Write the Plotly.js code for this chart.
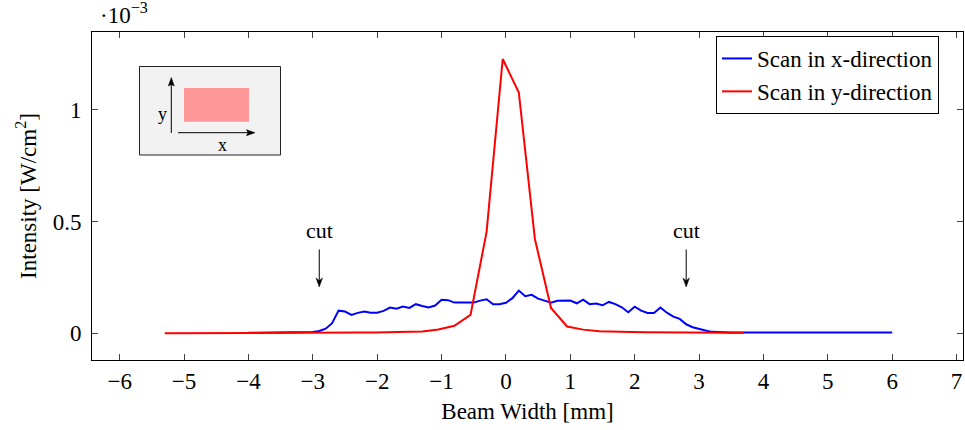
<!DOCTYPE html>
<html>
<head>
<meta charset="utf-8">
<script src="https://cdn.plot.ly/plotly-3.0.1.min.js"></script>
<style>html,body{margin:0;padding:0;background:#fff;}#chart{width:965px;height:430px;}</style>
</head>
<body>
<div id="chart"></div>
<script>
// ---- data (intensity in units of 1e-3 W/cm^2) ----
const xScanX = [-4.0,-3.9,-3.8,-3.7,-3.6,-3.5,-3.4,-3.3,-3.2,-3.1,-3.0,-2.9,-2.8,-2.7,-2.6,-2.5,-2.4,-2.3,-2.2,-2.1,-2.0,-1.9,-1.8,-1.7,-1.6,-1.5,-1.4,-1.3,-1.2,-1.1,-1.0,-0.9,-0.8,-0.7,-0.6,-0.5,-0.4,-0.3,-0.2,-0.1,0.0,0.1,0.2,0.3,0.4,0.5,0.6,0.7,0.8,0.9,1.0,1.1,1.2,1.3,1.4,1.5,1.6,1.7,1.8,1.9,2.0,2.1,2.2,2.3,2.4,2.5,2.6,2.7,2.8,2.9,3.0,3.1,3.2,3.3,3.4,3.5,3.6,3.7,3.8,3.9,4.0,4.1,4.2,4.3,4.4,4.5,4.6,4.7,4.8,4.9,5.0,5.1,5.2,5.3,5.4,5.5,5.6,5.7,5.8,5.9,6.0];
const intensityScanX = [0.002,0.002,0.002,0.002,0.002,0.002,0.003,0.003,0.003,0.004,0.005,0.010,0.020,0.045,0.101,0.097,0.082,0.091,0.097,0.092,0.092,0.100,0.115,0.110,0.119,0.113,0.130,0.122,0.115,0.124,0.150,0.148,0.137,0.137,0.136,0.137,0.146,0.152,0.130,0.130,0.136,0.157,0.191,0.166,0.172,0.155,0.146,0.137,0.145,0.146,0.146,0.134,0.150,0.130,0.133,0.125,0.140,0.130,0.116,0.094,0.119,0.101,0.091,0.090,0.115,0.092,0.074,0.064,0.040,0.027,0.018,0.012,0.006,0.004,0.003,0.003,0.003,0.003,0.003,0.003,0.003,0.003,0.003,0.003,0.003,0.003,0.004,0.005,0.005,0.005,0.005,0.004,0.004,0.004,0.004,0.003,0.003,0.003,0.003,0.003,0.003];
const xScanY = [-5.3,-5.05,-4.8,-4.55,-4.3,-4.05,-3.8,-3.55,-3.3,-3.05,-2.8,-2.55,-2.3,-2.05,-1.8,-1.55,-1.3,-1.05,-0.8,-0.55,-0.3,-0.05,0.2,0.45,0.7,0.95,1.2,1.45,1.7,1.95,2.2,2.45,2.7,2.95,3.2,3.45,3.7];
const intensityScanY = [0.0,0.0,0.0,0.0,0.0005,0.0008,0.001,0.001,0.0015,0.002,0.002,0.0025,0.003,0.0035,0.004,0.005,0.008,0.017,0.033,0.082,0.455,1.228,1.078,0.422,0.113,0.030,0.016,0.009,0.006,0.005,0.004,0.003,0.003,0.002,0.002,0.002,0.002];
const seriesNames = ["Scan in x-direction", "Scan in y-direction"];
const xTickVals = [-6,-5,-4,-3,-2,-1,0,1,2,3,4,5,6,7];
const yTickVals = [0, 0.5, 1];
const yTickText = ["0", "0.5", "1"];
const cutPositions = [-2.9, 2.8];

// ---- layout helpers (pixel -> paper) ----
const W = 965, H = 430, ML = 92, MR = 2, MT = 32, MB = 70;
const PW = W - ML - MR, PH = H - MT - MB;
const px = v => (v - ML) / PW;
const py = v => (H - MB - v) / PH;
const XR = [-6.43, 7.1], YR = [-0.12, 1.349];
const dxPerPx = (XR[1] - XR[0]) / PW, dyPerPx = (YR[1] - YR[0]) / PH;

const FONT = "Liberation Serif";
const FS = 23;

const traces = [
  {x: xScanX, y: intensityScanX, name: seriesNames[0], type: "scatter", mode: "lines",
   line: {color: "#0000ff", width: 2}},
  {x: xScanY, y: intensityScanY, name: seriesNames[1], type: "scatter", mode: "lines",
   line: {color: "#ff0000", width: 2}}
];

const annotations = [];
const shapes = [];
cutPositions.forEach(c => {
  const tipY = 0.207, tailY = 0.375;
  const hw = 3.2 * dxPerPx, hh = 9 * dyPerPx;
  shapes.push({type: "line", xref: "x", yref: "y", x0: c, x1: c, y0: tailY, y1: tipY + hh * 0.6,
    line: {color: "#000", width: 1}});
  shapes.push({type: "path", xref: "x", yref: "y",
    path: `M ${c} ${tipY} L ${c - hw} ${tipY + hh} L ${c} ${tipY + hh * 0.7} L ${c + hw} ${tipY + hh} Z`,
    fillcolor: "#000", line: {color: "#000", width: 0.5}});
  annotations.push({x: c, y: 0.458, xref: "x", yref: "y", text: "cut", showarrow: false,
    font: {family: FONT, size: 22, color: "#000"}, xanchor: "center", yanchor: "middle"});
});
// exponent label
annotations.push({x: px(98), y: py(14), xref: "paper", yref: "paper", text: "·10<sup>−3</sup>",
  showarrow: false, xanchor: "left", yanchor: "middle", font: {family: FONT, size: 23, color: "#000"}});

// inset
shapes.push({type: "rect", xref: "paper", yref: "paper", x0: px(139.5), x1: px(280.5), y0: py(155), y1: py(66.5),
   fillcolor: "#f2f2f2", line: {color: "#222", width: 1}, layer: "above"});
shapes.push({type: "rect", xref: "paper", yref: "paper", x0: px(184), x1: px(249), y0: py(121.7), y1: py(88),
   fillcolor: "#ff9999", line: {width: 0}, layer: "above"});
// vertical inset arrow
shapes.push({type: "line", xref: "paper", yref: "paper", x0: px(171.3), x1: px(171.3), y0: py(133), y1: py(84),
   line: {color: "#000", width: 1}, layer: "above"});
shapes.push({type: "path", xref: "paper", yref: "paper",
   path: `M ${px(171.3)} ${py(77.5)} L ${px(168.3)} ${py(86)} L ${px(171.3)} ${py(84.5)} L ${px(174.3)} ${py(86)} Z`,
   fillcolor: "#000", line: {color: "#000", width: 0.5}, layer: "above"});
// horizontal inset arrow
shapes.push({type: "line", xref: "paper", yref: "paper", x0: px(178), x1: px(248), y0: py(132.7), y1: py(132.7),
   line: {color: "#000", width: 1}, layer: "above"});
shapes.push({type: "path", xref: "paper", yref: "paper",
   path: `M ${px(255)} ${py(132.7)} L ${px(246.5)} ${py(129.7)} L ${px(248)} ${py(132.7)} L ${px(246.5)} ${py(135.7)} Z`,
   fillcolor: "#000", line: {color: "#000", width: 0.5}, layer: "above"});
annotations.push({x: px(156), y: py(102), xref: "paper", yref: "paper", text: "y", showarrow: false,
  font: {family: FONT, size: 18, color: "#000"}});
annotations.push({x: px(216), y: py(145), xref: "paper", yref: "paper", text: "x", showarrow: false,
  font: {family: FONT, size: 18, color: "#000"}});

const axisCommon = {
  showgrid: false, zeroline: false, showline: true, linecolor: "#000", linewidth: 1,
  mirror: "allticks", ticks: "inside", ticklen: 6, tickcolor: "#444", tickwidth: 1,
  tickfont: {family: FONT, size: FS, color: "#000"}
};

const layout = {
  width: W, height: H,
  margin: {l: ML, r: MR, t: MT, b: MB, pad: 0},
  paper_bgcolor: "#fff", plot_bgcolor: "#fff",
  showlegend: true,
  legend: {x: px(939), y: py(36), xanchor: "right", yanchor: "top",
    bordercolor: "#000", borderwidth: 1, bgcolor: "#fff",
    font: {family: FONT, size: FS, color: "#000"}, tracegroupgap: 0, itemwidth: 30},
  xaxis: Object.assign({}, axisCommon, {
    range: XR, tickvals: xTickVals, automargin: false,
    title: {text: "Beam Width [mm]", font: {family: FONT, size: FS, color: "#000"}, standoff: 10}
  }),
  yaxis: Object.assign({}, axisCommon, {
    range: YR, tickvals: yTickVals, ticktext: yTickText, automargin: false, ticklabelstandoff: 5,
    title: {text: "Intensity [W/cm<sup>2</sup>]", font: {family: FONT, size: FS, color: "#000"}, standoff: 9}
  }),
  annotations: annotations,
  shapes: shapes
};

Plotly.newPlot("chart", traces, layout, {staticPlot: true, displayModeBar: false});
</script>
</body>
</html>
